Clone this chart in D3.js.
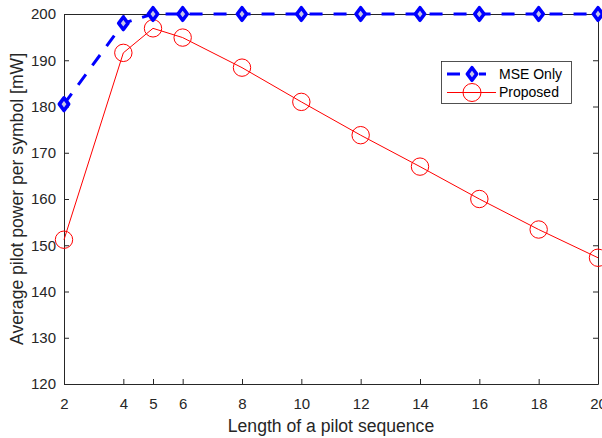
<!DOCTYPE html>
<html><head><meta charset="utf-8">
<script src="https://cdn.jsdelivr.net/npm/d3@7/dist/d3.min.js"></script>
<style>body{margin:0;background:#fff}svg{display:block}text{font-family:"Liberation Sans",Arial,sans-serif}</style>
</head><body>
<script>
const xValues = [2, 4, 5, 6, 8, 10, 12, 14, 16, 18, 20];
const mseOnly = [180.5, 198, 200, 200, 200, 200, 200, 200, 200, 200, 200];
const proposed = [151.2, 191.6, 196.9, 194.9, 188.4, 181.0, 173.8, 167.0, 160.0, 153.4, 147.3];
const xTicks = [2, 4, 5, 6, 8, 10, 12, 14, 16, 18, 20];
const yTicks = [120, 130, 140, 150, 160, 170, 180, 190, 200];
const seriesNames = ["MSE Only", "Proposed"];

const W = 602, H = 438;
const m = {l: 64, r: 4, t: 14, b: 54};
const svg = d3.select("body").append("svg").attr("width", W).attr("height", H);
const x = d3.scaleLinear().domain([2, 20]).range([m.l, W - m.r]);
const y = d3.scaleLinear().domain([120, 200]).range([H - m.b, m.t]);
const axisColor = "#262626";

// axes
const gx = svg.append("g").attr("transform", `translate(0,${H - m.b})`)
  .call(d3.axisBottom(x).tickValues(xTicks).tickSizeInner(-5).tickSizeOuter(0).tickPadding(14));
const gxt = svg.append("g").attr("transform", `translate(0,${m.t})`)
  .call(d3.axisTop(x).tickValues(xTicks).tickSizeInner(-5).tickSizeOuter(0).tickFormat(""));
const gy = svg.append("g").attr("transform", `translate(${m.l},0)`)
  .call(d3.axisLeft(y).tickValues(yTicks).tickSizeInner(-5).tickSizeOuter(0).tickPadding(8));
const gyr = svg.append("g").attr("transform", `translate(${W - m.r},0)`)
  .call(d3.axisRight(y).tickValues(yTicks).tickSizeInner(-5).tickSizeOuter(0).tickFormat(""));
[gx, gxt, gy, gyr].forEach(g => {
  g.selectAll("path.domain").attr("stroke", axisColor).attr("stroke-width", 1);
  g.selectAll("line").attr("stroke", axisColor).attr("stroke-width", 1);
  g.selectAll("text").attr("fill", axisColor).style("font-size", "15px").style("font-family", '"Liberation Sans",Arial,sans-serif');
});
gx.selectAll("text").attr("dy", "0.71em");

// axis labels
svg.append("text").attr("x", (m.l + W - m.r) / 2).attr("y", 432).attr("text-anchor", "middle")
  .attr("fill", axisColor).style("font-size", "17.6px").text("Length of a pilot sequence");
svg.append("text").attr("transform", `translate(23,${(m.t + H - m.b) / 2}) rotate(-90)`)
  .attr("text-anchor", "middle").attr("fill", axisColor).style("font-size", "17.6px")
  .text("Average pilot power per symbol [mW]");

const line = d3.line().x(d => x(d[0])).y(d => y(d[1]));
const mseData = xValues.map((v, i) => [v, mseOnly[i]]);
const propData = xValues.map((v, i) => [v, proposed[i]]);

// Proposed
svg.append("path").datum(propData).attr("d", line).attr("fill", "none").attr("stroke", "#ff0000").attr("stroke-width", 1);
svg.selectAll("circle.p").data(propData).enter().append("circle").attr("class", "p")
  .attr("cx", d => x(d[0])).attr("cy", d => y(d[1])).attr("r", 8.7)
  .attr("fill", "none").attr("stroke", "#ff0000").attr("stroke-width", 1);

// MSE Only
const diamond = s => `M0,${-s}L${s * 0.74},0L0,${s}L${-s * 0.74},0Z`;
svg.append("path").datum(mseData).attr("d", line).attr("fill", "none").attr("stroke", "#0000ff")
  .attr("stroke-width", 3).attr("stroke-dasharray", "13,11");
svg.selectAll("path.d").data(mseData).enter().append("path").attr("class", "d")
  .attr("transform", d => `translate(${x(d[0])},${y(d[1])})`)
  .attr("d", diamond(6.3)).attr("fill", "#c8c8e8").attr("stroke", "#0000ff").attr("stroke-width", 3.6)
  .attr("stroke-linejoin", "round");

// legend
const lg = svg.append("g");
lg.append("rect").attr("x", 441.5).attr("y", 61.5).attr("width", 130).attr("height", 42)
  .attr("fill", "#fff").attr("stroke", "#262626").attr("stroke-width", 0.8);
const ly = [74, 92.5];
lg.append("line").attr("x1", 447).attr("x2", 486).attr("y1", ly[0]).attr("y2", ly[0]).attr("stroke", "#0000ff").attr("stroke-width", 3).attr("stroke-dasharray", "13,19,7");
lg.append("path").attr("transform", `translate(472,${ly[0]})`).attr("d", diamond(6.3)).attr("fill", "#c8c8e8").attr("stroke", "#0000ff").attr("stroke-width", 3.6).attr("stroke-linejoin", "round");
lg.append("line").attr("x1", 447).attr("x2", 496).attr("y1", ly[1]).attr("y2", ly[1]).attr("stroke", "#ff0000").attr("stroke-width", 1);
lg.append("circle").attr("cx", 472).attr("cy", ly[1]).attr("r", 9).attr("fill", "none").attr("stroke", "#ff0000");
seriesNames.forEach((n, i) => {
  lg.append("text").attr("x", 499).attr("y", ly[i]).attr("dy", "0.35em").attr("fill", "#000")
    .style("font-size", "14px").text(n);
});
</script>
</body></html>
